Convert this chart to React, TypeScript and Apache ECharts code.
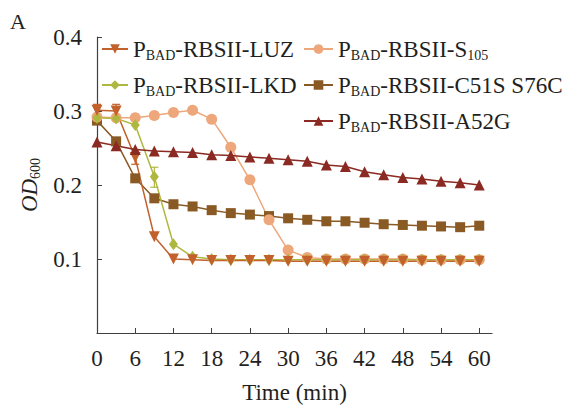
import React, { useEffect, useRef } from "react";
import * as echarts from "echarts";

const times = [0, 3, 6, 9, 12, 15, 18, 21, 24, 27, 30, 33, 36, 39, 42, 45, 48, 51, 54, 57, 60];
const xTicks = [0, 6, 12, 18, 24, 30, 36, 42, 48, 54, 60];

const luz = [0.301, 0.300, 0.237, 0.130, 0.100, 0.099, 0.098, 0.098, 0.098, 0.098, 0.097, 0.097, 0.097, 0.097, 0.097, 0.097, 0.097, 0.097, 0.097, 0.097, 0.097];
const s105 = [0.292, 0.291, 0.291, 0.294, 0.298, 0.301, 0.289, 0.251, 0.207, 0.153, 0.112, 0.102, 0.100, 0.100, 0.100, 0.100, 0.100, 0.099, 0.099, 0.099, 0.099];
const lkd = [0.291, 0.290, 0.281, 0.211, 0.120, 0.103, 0.100, 0.099, 0.099, 0.099, 0.099, 0.099, 0.099, 0.099, 0.099, 0.099, 0.099, 0.099, 0.099, 0.099, 0.099];
const c51s = [0.287, 0.259, 0.209, 0.182, 0.174, 0.171, 0.166, 0.162, 0.160, 0.158, 0.155, 0.153, 0.151, 0.151, 0.149, 0.147, 0.146, 0.145, 0.144, 0.143, 0.145];
const a52g = [0.258, 0.253, 0.248, 0.246, 0.245, 0.244, 0.241, 0.240, 0.238, 0.236, 0.234, 0.232, 0.227, 0.225, 0.218, 0.214, 0.210, 0.208, 0.205, 0.203, 0.200];

// error bars: [time, low, high]
const luzErr = [[0, 0.293, 0.309], [3, 0.292, 0.309], [6, 0.228, 0.248]];
const lkdErr = [[9, 0.197, 0.224]];

const names = {
  luz: "PBAD-RBSII-LUZ",
  s105: "PBAD-RBSII-S105",
  lkd: "PBAD-RBSII-LKD",
  c51s: "PBAD-RBSII-C51S S76C",
  a52g: "PBAD-RBSII-A52G",
};

const colors = {
  luz: "#c2612c",
  s105: "#eda77a",
  lkd: "#afb83e",
  c51s: "#8a5a25",
  a52g: "#8b2a22",
};

const serif = "Liberation Serif";

function pair(arr: number[]) {
  return times.map((t, i) => [t, arr[i]]);
}

function legendFormatter(name: string) {
  let rest = name.slice(4);
  if (rest.endsWith("S105")) rest = rest.slice(0, -3) + "{s|105}";
  return "P{s|BAD}" + rest;
}

const rich = {
  s: { fontSize: 14, fontFamily: serif, color: "#231f20", verticalAlign: "bottom", lineHeight: 10 },
};

export default function App() {
  const ref = useRef<HTMLDivElement>(null);
  useEffect(() => {
    if (!ref.current) return;
    const chart = echarts.init(ref.current, null, { renderer: "svg" });
    const lineSeries = (key: keyof typeof names, arr: number[], symbol: string, size: any, extra: any = {}) => ({
      type: "line",
      name: names[key],
      data: pair(arr),
      symbol,
      symbolSize: size,
      showAllSymbol: true,
      lineStyle: { color: colors[key], width: 1.5 },
      itemStyle: { color: colors[key] },
      ...extra,
    });
    const errSeries = (data: number[][], color: string) => ({
      type: "custom",
      data,
      silent: true,
      z: 1,
      renderItem: (params: any, api: any) => {
        const x = api.value(0);
        const lo = api.coord([x, api.value(1)]);
        const hi = api.coord([x, api.value(2)]);
        const w = 4;
        return {
          type: "group",
          children: [
            { type: "line", shape: { x1: lo[0], y1: lo[1], x2: hi[0], y2: hi[1] }, style: { stroke: color, lineWidth: 1.2 } },
            { type: "line", shape: { x1: lo[0] - w, y1: lo[1], x2: lo[0] + w, y2: lo[1] }, style: { stroke: color, lineWidth: 1.2 } },
            { type: "line", shape: { x1: hi[0] - w, y1: hi[1], x2: hi[0] + w, y2: hi[1] }, style: { stroke: color, lineWidth: 1.2 } },
          ],
        };
      },
    });
    const legendBase = {
      orient: "vertical",
      itemHeight: 12,
      itemGap: 10,
      formatter: legendFormatter,
      textStyle: { fontFamily: serif, fontSize: 23, color: "#231f20", lineHeight: 26, rich },
    };
    chart.setOption({
      animation: false,
      backgroundColor: "#ffffff",
      grid: { left: 97, top: 37, right: 75, bottom: 67, containLabel: false },
      graphic: [
        { type: "text", left: 10, top: 10, style: { text: "A", fontFamily: serif, fontSize: 22, fill: "#231f20" } },
      ],
      legend: [
        { ...legendBase, itemWidth: 26, left: 96, top: 31, data: [names.luz, names.lkd] },
        { ...legendBase, itemWidth: 29, left: 298, top: 31, data: [names.s105, names.c51s, names.a52g] },
      ],
      xAxis: {
        type: "value",
        min: 0,
        max: 62,
        interval: 6,
        name: "Time (min)",
        nameLocation: "middle",
        nameGap: 48,
        nameTextStyle: { fontFamily: serif, fontSize: 23, color: "#231f20" },
        axisLine: { lineStyle: { color: "#404040", width: 1.2 } },
        axisTick: { inside: true, length: 5, customValues: xTicks, lineStyle: { color: "#404040" } },
        axisLabel: { customValues: xTicks, margin: 14, fontFamily: serif, fontSize: 23, color: "#231f20" },
        splitLine: { show: false },
      },
      yAxis: {
        type: "value",
        min: 0,
        max: 0.4,
        interval: 0.1,
        name: "{i|OD}{s|600}",
        nameLocation: "middle",
        nameRotate: 90,
        nameGap: 48,
        nameTextStyle: {
          rich: {
            i: { fontFamily: serif, fontSize: 23, fontStyle: "italic", color: "#231f20", lineHeight: 26 },
            s: { fontFamily: serif, fontSize: 14, color: "#231f20", verticalAlign: "bottom", lineHeight: 10 },
          },
        },
        axisLine: { show: true, lineStyle: { color: "#404040", width: 1.2 } },
        axisTick: { show: true, inside: true, length: 5, lineStyle: { color: "#404040" } },
        axisLabel: { showMinLabel: false, margin: 15, fontFamily: serif, fontSize: 23, color: "#231f20", formatter: (v: number) => v.toFixed(1) },
        splitLine: { show: false },
      },
      series: [
        errSeries(luzErr, colors.luz),
        errSeries(lkdErr, colors.lkd),
        lineSeries("c51s", c51s, "rect", 10),
        lineSeries("s105", s105, "circle", 11),
        lineSeries("lkd", lkd, "diamond", [9, 12]),
        lineSeries("luz", luz, "triangle", 11, { symbolRotate: 180 }),
        lineSeries("a52g", a52g, "triangle", 11),
      ],
    });
    return () => chart.dispose();
  }, []);
  return <div ref={ref} style={{ position: "absolute", left: 0, top: 0, width: 567, height: 409 }} />;
}
